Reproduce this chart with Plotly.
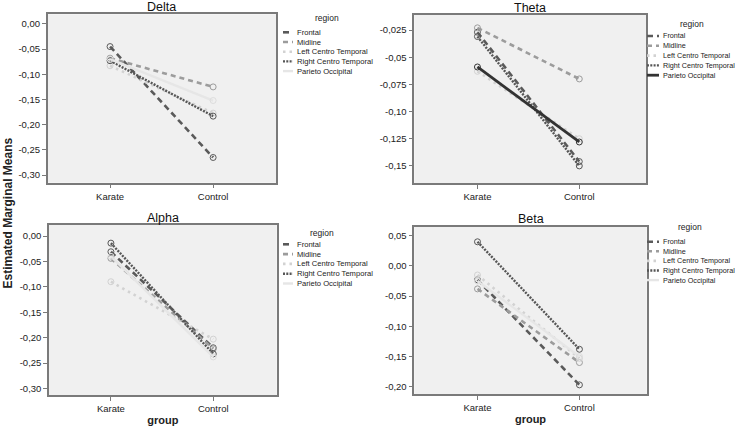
import plotly.graph_objects as go

# ---------------- data ----------------
groups = ["Karate", "Control"]
regions = ["Frontal", "Midline", "Left Centro Temporal", "Right Centro Temporal", "Parieto Occipital"]
panel_names = ["Delta", "Theta", "Alpha", "Beta"]

# values per region (same order as regions): [Karate, Control]
delta_frontal = [-0.045, -0.265]
delta_midline = [-0.068, -0.125]
delta_left_ct = [-0.083, -0.177]
delta_right_ct = [-0.073, -0.183]
delta_parieto = [-0.070, -0.152]

theta_frontal = [-0.027, -0.146]
theta_midline = [-0.023, -0.070]
theta_left_ct = [-0.063, -0.125]
theta_right_ct = [-0.031, -0.150]
theta_parieto = [-0.059, -0.128]

alpha_frontal = [-0.031, -0.220]
alpha_midline = [-0.044, -0.222]
alpha_left_ct = [-0.090, -0.203]
alpha_right_ct = [-0.014, -0.232]
alpha_parieto = [-0.040, -0.238]

beta_frontal = [-0.023, -0.197]
beta_midline = [-0.038, -0.160]
beta_left_ct = [-0.015, -0.153]
beta_right_ct = [0.040, -0.138]
beta_parieto = [-0.025, -0.150]

panel_values = [
    [delta_frontal, delta_midline, delta_left_ct, delta_right_ct, delta_parieto],
    [theta_frontal, theta_midline, theta_left_ct, theta_right_ct, theta_parieto],
    [alpha_frontal, alpha_midline, alpha_left_ct, alpha_right_ct, alpha_parieto],
    [beta_frontal, beta_midline, beta_left_ct, beta_right_ct, beta_parieto],
]

delta_tickvals = [0.0, -0.05, -0.10, -0.15, -0.20, -0.25, -0.30]
delta_ticktext = ["0,00", "-0,05", "-0,10", "-0,15", "-0,20", "-0,25", "-0,30"]
theta_tickvals = [-0.025, -0.05, -0.075, -0.10, -0.125, -0.15]
theta_ticktext = ["-0,025", "-0,05", "-0,075", "-0,10", "-0,125", "-0,15"]
alpha_tickvals = [0.0, -0.05, -0.10, -0.15, -0.20, -0.25, -0.30]
alpha_ticktext = ["0,00", "-0,05", "-0,10", "-0,15", "-0,20", "-0,25", "-0,30"]
beta_tickvals = [0.05, 0.0, -0.05, -0.10, -0.15, -0.20]
beta_ticktext = ["0,05", "0,00", "-0,05", "-0,10", "-0,15", "-0,20"]

# ---------------- styles / layout ----------------
W, H = 738, 427
FONT = "Liberation Sans, Arial, sans-serif"

base_styles = [
    dict(color="#5a5a5a", dash="6px,4px", width=2.6),    # Frontal
    dict(color="#9c9c9c", dash="5px,4px", width=2.6),    # Midline
    dict(color="#d2d2d2", dash="2.5px,4px", width=2.6),  # Left Centro Temporal
    dict(color="#565656", dash="2px,1.3px", width=2.4),  # Right Centro Temporal
    dict(color="#e6e6e6", dash="solid", width=2.4),      # Parieto Occipital
]
theta_parieto_style = dict(color="#333333", dash="solid", width=2.8)

def px_x(p):
    return p / W

def px_y(p):
    return 1 - p / H

# plot areas in pixels: (left, right, top, bottom)
boxes = [
    (47.7, 276.0, 14.3, 182.7),
    (414.3, 646.0, 15.0, 183.3),
    (49.0, 276.7, 225.0, 395.0),
    (414.3, 646.7, 226.7, 394.3),
]
yranges = [[-0.315, 0.019], [-0.166, -0.0112], [-0.313, 0.0217], [-0.2126, 0.065]]
xranges = [[-0.605, 1.61], [-0.62, 1.655], [-0.605, 1.62], [-0.62, 1.66]]
tickvals_all = [delta_tickvals, theta_tickvals, alpha_tickvals, beta_tickvals]
ticktext_all = [delta_ticktext, theta_ticktext, alpha_ticktext, beta_ticktext]

# legend placement (pixels): symbol x0, symbol x1, text x, first row y, row step, title x, title y, font
legend_pos = [
    (283, 293, 295, 32.3, 9.7, 327, 18, 7.6),
    (647, 659, 660.5, 36, 9.8, 692, 24, 7.2),
    (283, 293, 295, 244.3, 9.8, 322, 232.7, 7.6),
    (647, 659, 660.5, 241.7, 9.6, 690, 227.3, 7.2),
]

fig = go.Figure()
layout_axes = {}
annotations = []
shapes = []

for i, name in enumerate(panel_names):
    k = "" if i == 0 else str(i + 1)
    xa, ya = "x" + k, "y" + k
    l, r, t, b = boxes[i]
    for j, reg in enumerate(regions):
        st = theta_parieto_style if (name == "Theta" and reg == "Parieto Occipital") else base_styles[j]
        fig.add_trace(go.Scatter(
            x=groups, y=panel_values[i][j], mode="lines+markers", name=reg,
            xaxis=xa, yaxis=ya, showlegend=False,
            line=dict(color=st["color"], dash=st["dash"], width=st["width"]),
            marker=dict(symbol="circle-open", size=6,
                        color=st["color"] if st["color"] != "#e6e6e6" else "#dddddd",
                        line=dict(width=1)),
            hovertemplate=name + " – " + reg + ": %{y}<extra></extra>",
        ))
    layout_axes["xaxis" + k] = dict(
        domain=[px_x(l), px_x(r)], anchor=ya, type="category",
        categoryorder="array", categoryarray=groups, range=xranges[i],
        showline=True, mirror=True, linecolor="#7a7a7a", linewidth=1.5,
        ticks="outside", ticklen=4, tickcolor="#7a7a7a", showgrid=False, zeroline=False,
        tickfont=dict(family=FONT, size=9.5, color="#222"),
        title=dict(text="<b>group</b>" if i >= 2 else "", font=dict(family=FONT, size=11, color="#222"), standoff=3),
    )
    layout_axes["yaxis" + k] = dict(
        domain=[px_y(b), px_y(t)], anchor=xa, range=yranges[i],
        tickmode="array", tickvals=tickvals_all[i], ticktext=ticktext_all[i],
        showline=True, mirror=True, linecolor="#7a7a7a", linewidth=1.5,
        ticks="outside", ticklen=4, tickcolor="#7a7a7a", showgrid=False, zeroline=False,
        tickfont=dict(family=FONT, size=9.5, color="#222"),
    )
    # panel title
    annotations.append(dict(
        text=name, x=px_x((l + r) / 2), y=px_y(t - 7.5), xref="paper", yref="paper",
        xanchor="center", yanchor="middle", showarrow=False,
        font=dict(family=FONT, size=12.5, color="#111"),
    ))
    # legend
    sx0, sx1, tx, y0, dy, titx, tity, lf = legend_pos[i]
    annotations.append(dict(
        text="region", x=px_x(titx), y=px_y(tity), xref="paper", yref="paper",
        xanchor="center", yanchor="middle", showarrow=False,
        font=dict(family=FONT, size=8.5, color="#222"),
    ))
    for j, reg in enumerate(regions):
        st = theta_parieto_style if (name == "Theta" and reg == "Parieto Occipital") else base_styles[j]
        yy = px_y(y0 + j * dy)
        shapes.append(dict(
            type="line", xref="paper", yref="paper", x0=px_x(sx0), x1=px_x(sx1), y0=yy, y1=yy,
            line=dict(color=st["color"], dash=st["dash"], width=st["width"]),
        ))
        annotations.append(dict(
            text=reg, x=px_x(tx), y=yy, xref="paper", yref="paper",
            xanchor="left", yanchor="middle", showarrow=False,
            font=dict(family=FONT, size=lf, color="#222"),
        ))

# common y axis title
annotations.append(dict(
    text="<b>Estimated Marginal Means</b>", x=px_x(7.5), y=px_y(213), xref="paper", yref="paper",
    xanchor="center", yanchor="middle", showarrow=False, textangle=-90,
    font=dict(family=FONT, size=12, color="#222"),
))

fig.update_layout(
    width=W, height=H, margin=dict(l=0, r=0, t=0, b=0),
    paper_bgcolor="white", plot_bgcolor="#f0f0f0",
    showlegend=False, annotations=annotations, shapes=shapes,
    font=dict(family=FONT, color="#222"),
    **layout_axes,
)

fig.write_html("out.html", config={"displayModeBar": False},
               post_script="document.body.style.margin='0';document.body.style.overflow='hidden';")
